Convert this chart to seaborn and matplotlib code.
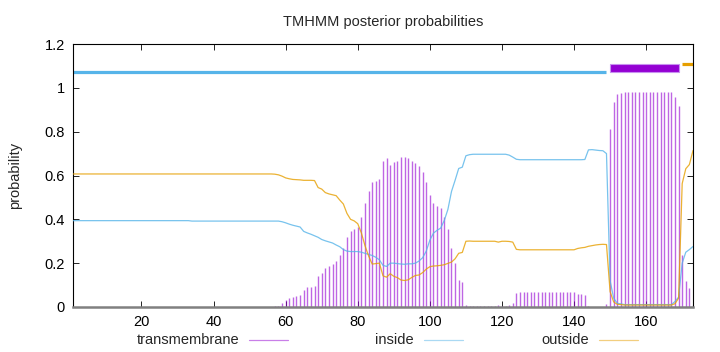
import numpy as np
import matplotlib
matplotlib.use('Agg')
import matplotlib.pyplot as plt
from matplotlib.lines import Line2D
from matplotlib.patches import Rectangle
import seaborn as sns

# residue positions and posterior probabilities
position = np.arange(1, 174)

inside = ([0.394] * 33 + [0.392] * 23 +
          [0.392, 0.392, 0.389, 0.384, 0.378, 0.373, 0.369, 0.365, 0.345, 0.338,
           0.332, 0.325, 0.318, 0.308, 0.302, 0.297, 0.292, 0.283, 0.275, 0.262,
           0.255, 0.253, 0.253, 0.253, 0.250, 0.245, 0.240, 0.235, 0.227, 0.215,
           0.190, 0.185, 0.200, 0.200, 0.198, 0.196, 0.195, 0.197, 0.197, 0.200,
           0.210, 0.225, 0.255, 0.305, 0.337, 0.350, 0.360, 0.395, 0.445, 0.527,
           0.578, 0.632, 0.638, 0.690] +
          [0.695] + [0.697] * 10 + [0.693, 0.684, 0.674] + [0.672] * 16 +
          [0.672, 0.672, 0.673] + [0.717, 0.718, 0.716, 0.714, 0.713, 0.700] +
          [0.120, 0.040, 0.017, 0.014] + [0.011] * 14 +
          [0.025, 0.045, 0.200, 0.250, 0.262, 0.276])

outside = ([0.607] * 56 +
           [0.606, 0.603, 0.597, 0.589, 0.585, 0.582, 0.581, 0.580, 0.578, 0.578,
            0.578, 0.577, 0.545, 0.538, 0.522, 0.516, 0.512, 0.508, 0.488, 0.470,
            0.427, 0.400, 0.393, 0.380, 0.338, 0.280, 0.233, 0.196, 0.198, 0.200,
            0.142, 0.136, 0.152, 0.140, 0.134, 0.123, 0.121, 0.124, 0.135, 0.144,
            0.146, 0.157, 0.173, 0.184, 0.187, 0.188, 0.190, 0.193, 0.199, 0.205,
            0.220, 0.245, 0.249, 0.300] +
           [0.301] + [0.300] * 7 + [0.296, 0.300, 0.300, 0.299, 0.296, 0.263] +
           [0.261] * 16 +
           [0.267, 0.270, 0.272, 0.277, 0.280, 0.283, 0.285, 0.286, 0.285] +
           [0.070, 0.023, 0.012, 0.011] + [0.009] * 14 +
           [0.015, 0.040, 0.563, 0.631, 0.650, 0.714])

transmembrane = ([0.0] * 55 +
                 [0.001, 0.003, 0.005, 0.020, 0.030, 0.040, 0.045, 0.050, 0.055, 0.078,
                  0.090, 0.090, 0.095, 0.141, 0.153, 0.177, 0.188, 0.195, 0.210, 0.237,
                  0.268, 0.318, 0.348, 0.354, 0.367, 0.412, 0.476, 0.527, 0.569, 0.575,
                  0.583, 0.668, 0.679, 0.648, 0.660, 0.668, 0.686, 0.686, 0.679, 0.668,
                  0.656, 0.644, 0.618, 0.572, 0.511, 0.476, 0.462, 0.450, 0.412, 0.356,
                  0.268, 0.202, 0.123, 0.113, 0.010] +
                 [0.004] + [0.003] * 7 + [0.007, 0.003, 0.003, 0.008, 0.020, 0.063] +
                 [0.067] * 16 +
                 [0.061, 0.058, 0.055, 0.006, 0.002, 0.001, 0.001, 0.001, 0.015] +
                 [0.810, 0.937, 0.971, 0.975] + [0.980] * 14 +
                 [0.960, 0.915, 0.237, 0.119, 0.088, 0.010])

# predicted topology segments (start, end)
inside_seg = (1, 149)
tm_seg = (150, 169)
outside_seg = (170, 173)

c_tm = '#9400D3'
c_in = '#56B4E9'
c_out = '#E69F00'

sns.set_style('ticks')
plt.rcParams['font.family'] = ['Liberation Sans', 'DejaVu Sans']

fig = plt.figure(figsize=(7.2, 3.52), dpi=100)
ax = fig.add_axes([73 / 720, 1 - 307 / 352, 620 / 720, 263 / 352])

ax.vlines(position, 0, transmembrane, color=c_tm, lw=1.0, alpha=0.6, zorder=2)
sns.lineplot(x=position, y=inside, color=c_in, lw=0.9, alpha=0.8, ax=ax, zorder=3)
sns.lineplot(x=position, y=outside, color=c_out, lw=0.9, alpha=0.8, ax=ax, zorder=3)

ax.plot(inside_seg, [1.07, 1.07], color=c_in, lw=2.3, solid_capstyle='butt')
ax.add_patch(Rectangle((tm_seg[0], 1.07), tm_seg[1] - tm_seg[0], 0.04,
                       facecolor=c_tm, edgecolor='#c890f0', lw=0.8, zorder=4))
ax.plot(outside_seg, [1.11, 1.11], color=c_out, lw=2.3, solid_capstyle='butt')

ax.set_xlim(1, 173)
ax.set_ylim(0, 1.2)
ax.set_xticks([20, 40, 60, 80, 100, 120, 140, 160])
ax.set_yticks([0, 0.2, 0.4, 0.6, 0.8, 1.0, 1.2])
ax.set_yticklabels(['0', '0.2', '0.4', '0.6', '0.8', '1', '1.2'])
ax.tick_params(direction='in', top=True, right=True, length=4, width=0.6,
               labelsize=10.5, colors='black', pad=6)
for s in ax.spines.values():
    s.set_color('black')
    s.set_linewidth(0.8)
ax.spines['bottom'].set_color('#808080')
ax.spines['bottom'].set_linewidth(1.8)

ax.set_title('TMHMM posterior probabilities', fontsize=10.5, pad=13)
ax.set_ylabel('probability', fontsize=10.5, labelpad=16)
ax.set_xlabel('')

# gnuplot style key below the plot: label then line sample
key = [('transmembrane', c_tm, 239, 249), ('inside', c_in, 414, 424), ('outside', c_out, 589, 599)]
for label, col, tx, lx in key:
    fig.text(tx / 720, 1 - 340 / 352, label, ha='right', va='center', fontsize=10.5)
    fig.add_artist(Line2D([lx / 720, (lx + 39) / 720], [1 - 340 / 352] * 2,
                          color=col, lw=0.9, alpha=0.5, transform=fig.transFigure))

fig.savefig('out.png', dpi=100)
